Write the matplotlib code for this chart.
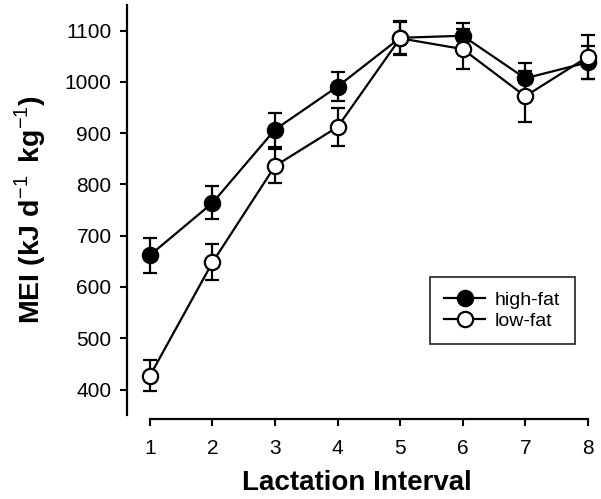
import matplotlib.pyplot as plt
from matplotlib.lines import Line2D

plt.rcParams['font.family'] = ['Liberation Sans', 'DejaVu Sans']
plt.rcParams['mathtext.fontset'] = 'custom'
plt.rcParams['mathtext.rm'] = 'Liberation Sans'
plt.rcParams['mathtext.bf'] = 'Liberation Sans:bold'

# Data
interval = [1, 2, 3, 4, 5, 6, 7, 8]
high_fat = [662, 764, 907, 991, 1086, 1090, 1007, 1038]
high_fat_err = [34, 32, 33, 29, 32, 25, 30, 32]
low_fat = [427, 648, 836, 912, 1085, 1064, 972, 1049]
low_fat_err = [30, 35, 33, 37, 32, 39, 50, 43]

fig = plt.figure(figsize=(6.01, 4.99), dpi=100)
ax = fig.add_axes([0.211, 0.168, 0.767, 0.822])

style = dict(color='black', lw=1.6, markersize=11, capsize=5,
             capthick=1.8, elinewidth=1.6, markeredgewidth=1.6,
             markeredgecolor='black', clip_on=False)
ax.errorbar(interval, high_fat, yerr=high_fat_err, marker='o',
            markerfacecolor='black', **style)
ax.errorbar(interval, low_fat, yerr=low_fat_err, marker='o',
            markerfacecolor='white', **style)

ax.set_xlim(0.63, 8)
ax.set_ylim(350, 1150)
ax.set_xticks(interval)
ax.set_yticks([400, 500, 600, 700, 800, 900, 1000, 1100])

ax.spines['top'].set_visible(False)
ax.spines['right'].set_visible(False)
ax.spines['left'].set_linewidth(1.6)
ax.spines['bottom'].set_linewidth(1.6)
ax.spines['bottom'].set_bounds(1, 8)
ax.spines['bottom'].set_position(('outward', 3))
ax.tick_params(direction='out', length=5, width=1.5, labelsize=15)
ax.tick_params(axis='x', pad=9)
ax.tick_params(axis='y', pad=6)

ax.set_xlabel('Lactation Interval', fontsize=20, fontweight='bold', labelpad=9)
ax.set_ylabel('MEI (kJ d$^{\\text{\u22121}}$$\\,$ kg$^{\\text{\u22121}}$)',
              fontsize=20.5, fontweight='bold', labelpad=12)

handles = [Line2D([], [], color='black', lw=1.6, marker='o', markersize=11,
                  markerfacecolor=fc, markeredgecolor='black', markeredgewidth=1.6)
           for fc in ['black', 'white']]
leg = ax.legend(handles, ['high-fat', 'low-fat'], loc='upper left',
                bbox_to_anchor=(0.657, 0.337), fontsize=14,
                frameon=True, fancybox=False, edgecolor='black',
                handlelength=2.1, handletextpad=0.5, borderpad=0.75,
                labelspacing=0.15, borderaxespad=0)
leg.get_frame().set_linewidth(1.3)

fig.savefig('out.png', dpi=100)
